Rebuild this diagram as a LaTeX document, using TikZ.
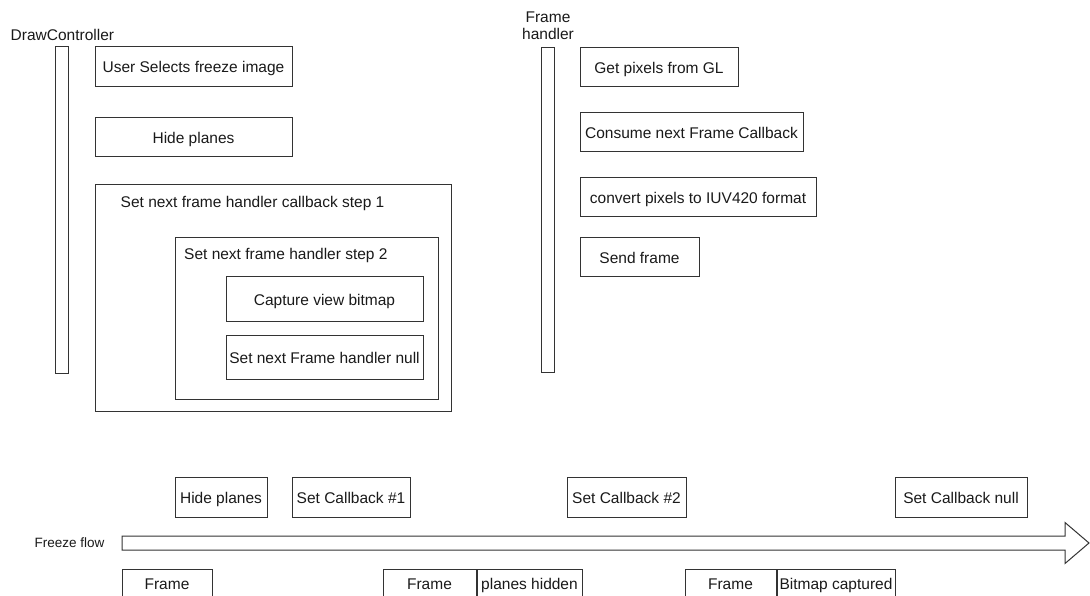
\documentclass[tikz,border=0pt]{standalone}
\usepackage{fontspec}
\setmainfont{Liberation Sans}
\definecolor{linec}{HTML}{333333}
\definecolor{txtc}{HTML}{1A1A1A}
\tikzset{
  box/.style={draw=linec, line width=1pt, fill=white, inner sep=0pt, text=txtc,
              text height=14pt, text depth=1pt},
  lifeline/.style={box, minimum width=13pt},
  lbl/.style={inner sep=0pt, text=txtc},
  flowarrow/.style={draw=linec, line width=1pt, fill=white, line join=miter},
}
\begin{document}
\begin{tikzpicture}[x=1pt, y=-1pt, font=\fontsize{15.5}{18}\selectfont]
\clip (0,0) rectangle (1090,595);
\useasboundingbox (0,0) rectangle (1090,595);
\fill[white] (0,0) rectangle (1090,595);

% ---- DrawController lane ----
\node[lbl] (dcl) at (62.4,35) {DrawController};
\node[lifeline, minimum height=327pt] (dclife) at (61.5,209.5) {};
\node[box, minimum width=197pt, minimum height=40pt] (usersel) at (193.5,66) {User Selects freeze image};
\node[box, minimum width=197pt, minimum height=39pt] (hide) at (193.5,136.5) {Hide planes};
\node[box, minimum width=356pt, minimum height=227pt] (step1) at (273,297.5) {};
\node[lbl, anchor=west] (step1t) at (120.5,203) {Set next frame handler callback step 1};
\node[box, minimum width=263pt, minimum height=162pt] (step2) at (306.5,318) {};
\node[lbl, anchor=west] (step2t) at (184,255) {Set next frame handler step 2};
\node[box, minimum width=197pt, minimum height=45pt] (capture) at (324.5,298.5) {Capture view bitmap};
\node[box, minimum width=197pt, minimum height=44pt] (setnull) at (324.5,357) {Set next Frame handler null};

% ---- Frame handler lane ----
\node[lbl, align=center] (fhl) at (548,26) {Frame\\[-1pt]handler};
\node[lifeline, minimum height=325pt] (fhlife) at (547.5,209.5) {};
\node[box, minimum width=158pt, minimum height=39pt] (getpix) at (659,66.5) {Get pixels from GL};
\node[box, minimum width=223pt, minimum height=39pt] (consume) at (691.5,131.5) {Consume next Frame Callback};
\node[box, minimum width=236pt, minimum height=39pt] (convert) at (698,196.5) {convert pixels to IUV420 format};
\node[box, minimum width=119pt, minimum height=39pt] (send) at (639.5,256.5) {Send frame};

% ---- Freeze flow timeline ----
\node[box, minimum width=92pt, minimum height=40pt] (thide) at (221,497) {Hide planes};
\node[box, minimum width=118pt, minimum height=40pt] (tcb1) at (351,497) {Set Callback \#1};
\node[box, minimum width=119pt, minimum height=40pt] (tcb2) at (626.5,497) {Set Callback \#2};
\node[box, minimum width=132pt, minimum height=40pt] (tcbnull) at (961,497) {Set Callback null};

\node[lbl, font=\fontsize{13.5}{16}\selectfont] (ffl) at (69.6,543) {Freeze flow};
\coordinate (tail) at (122,543);
\coordinate (tip) at (1089,543);
\draw[flowarrow] (tail) ++(0,-7) -- (1065,536) -- (1065,522.5) -- (tip)
  -- (1065,563.5) -- (1065,550) -- (122,550) -- cycle;

\node[box, minimum width=90pt, minimum height=28pt] (fr1) at (167,583) {Frame};
\node[box, minimum width=93pt, minimum height=28pt] (fr2) at (429.5,583) {Frame};
\node[box, minimum width=105pt, minimum height=28pt, anchor=west] (fr2n) at (fr2.east) {planes hidden};
\node[box, minimum width=91pt, minimum height=28pt] (fr3) at (730.5,583) {Frame};
\node[box, minimum width=118pt, minimum height=28pt, anchor=west] (fr3n) at (fr3.east) {Bitmap captured};
\end{tikzpicture}
\end{document}
